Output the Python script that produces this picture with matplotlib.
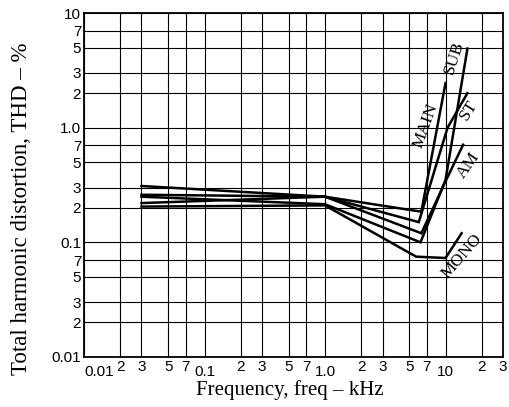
import numpy as np
import matplotlib
matplotlib.use('Agg')
import matplotlib.pyplot as plt
from matplotlib.ticker import FixedLocator, FixedFormatter

# Frequency points (kHz) and THD (%) for each curve
main_f = [0.03, 1.0, 6.3, 10.0]
main_thd = [0.31, 0.25, 0.185, 2.45]

st_f = [0.03, 1.0, 6.0, 10.4, 15.2]
st_thd = [0.26, 0.25, 0.15, 1.0, 2.0]

am_f = [0.03, 1.0, 6.3, 10.0, 14.0]
am_thd = [0.22, 0.25, 0.12, 0.34, 0.71]

sub_f = [0.03, 1.0, 6.2, 10.0, 15.2]
sub_thd = [0.25, 0.215, 0.10, 0.35, 4.9]

mono_f = [0.03, 1.0, 5.7, 10.0, 13.6]
mono_thd = [0.205, 0.21, 0.075, 0.073, 0.12]

# label text, position (kHz, %), rotation
curve_labels = ['SUB', 'MAIN', 'ST', 'AM', 'MONO']
label_f = [11.8, 6.85, 15.7, 15.4, 13.7]
label_thd = [4.1, 1.03, 1.43, 0.47, 0.075]
label_rot = [72, 70, 58, 55, 49]

# tick positions and labels
x_major = [0.01, 0.1, 1.0, 10.0]
x_major_labels = ['0.01', '0.1', '1.0', '10']
x_minor = [0.02, 0.03, 0.05, 0.07, 0.2, 0.3, 0.5, 0.7, 2, 3, 5, 7, 20, 30]
x_minor_labels = ['2', '3', '5', '7'] * 3 + ['2', '3']

y_major = [0.01, 0.1, 1.0, 10.0]
y_major_labels = ['0.01', '0.1', '1.0', '10']
y_minor = [0.02, 0.03, 0.05, 0.07, 0.2, 0.3, 0.5, 0.7, 2, 3, 5, 7]
y_minor_labels = ['2', '3', '5', '7'] * 3

fig = plt.figure(figsize=(5.10, 4.07), dpi=100)
ax = fig.add_axes([0.1647, 0.1229, 0.8216, 0.8451])
ax.set_xscale('log')
ax.set_yscale('log')
ax.set_xlim(0.01, 30)
ax.set_ylim(0.01, 10)

for f, t in [(main_f, main_thd), (st_f, st_thd), (am_f, am_thd),
             (sub_f, sub_thd), (mono_f, mono_thd)]:
    ax.plot(f, t, color='black', lw=1.8, solid_joinstyle='miter', zorder=3)

for txt, f, t, r in zip(curve_labels, label_f, label_thd, label_rot):
    ax.text(f, t, txt, rotation=r, ha='center', va='center',
            rotation_mode='anchor', family='Liberation Serif', fontsize=12.5,
            zorder=4)

tick_font = 'Liberation Sans'
ax.xaxis.set_major_locator(FixedLocator(x_major))
ax.xaxis.set_major_formatter(FixedFormatter(x_major_labels))
ax.xaxis.set_minor_locator(FixedLocator(x_minor))
ax.xaxis.set_minor_formatter(FixedFormatter(x_minor_labels))
ax.yaxis.set_major_locator(FixedLocator(y_major))
ax.yaxis.set_major_formatter(FixedFormatter(y_major_labels))
ax.yaxis.set_minor_locator(FixedLocator(y_minor))
ax.yaxis.set_minor_formatter(FixedFormatter(y_minor_labels))

ax.tick_params(which='both', length=0)
ax.tick_params(axis='x', which='major', pad=6, labelsize=11)
ax.tick_params(axis='x', which='minor', pad=2, labelsize=11)
ax.tick_params(axis='y', which='both', pad=2, labelsize=11)
for lab in ax.get_xticklabels(which='both') + ax.get_yticklabels(which='both'):
    lab.set_family(tick_font)
# first x label sits right of the corner
ax.get_xticklabels()[0].set_horizontalalignment('left')

ax.grid(True, which='both', color='black', lw=0.8)
for s in ax.spines.values():
    s.set_linewidth(1.3)

ax.set_xlabel('Frequency, freq \u2013 kHz', family='Liberation Serif',
              fontsize=15)
ax.set_ylabel('Total harmonic distortion, THD \u2013 %', family='Liberation Serif',
              fontsize=16.5)
ax.xaxis.set_label_coords(0.49, -0.066)
ax.yaxis.set_label_coords(-0.125, 0.43)

fig.savefig('out.png', dpi=100)
